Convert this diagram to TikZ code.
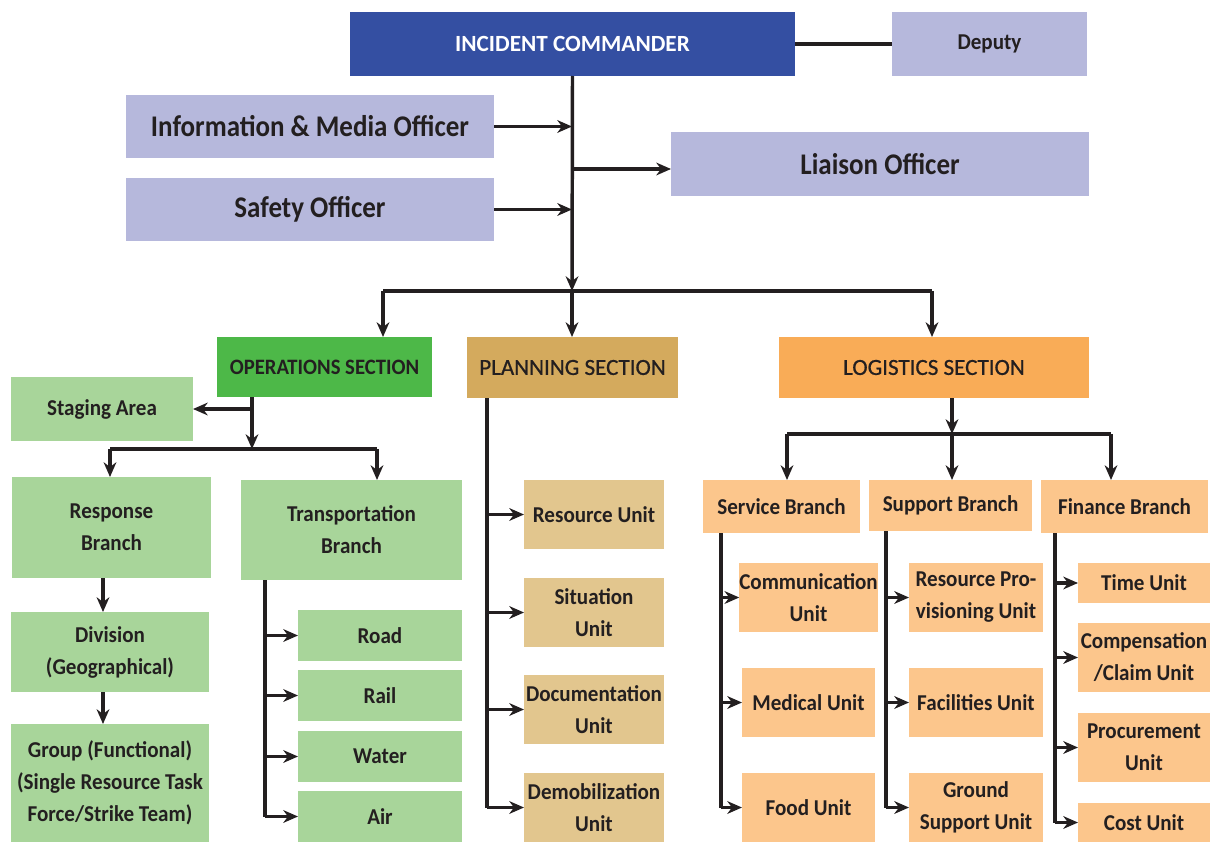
\documentclass[tikz,border=0pt]{standalone}
\usepackage{fontspec}
\setmainfont{Carlito}
\newfontfamily\fbig[FakeStretch=0.9]{Carlito}
\newfontfamily\fnorm[FakeStretch=0.93]{Carlito}
\newfontfamily\fops[FakeStretch=0.94]{Carlito}
\newfontfamily\fsec[FakeBold=0.7]{Carlito}
\usetikzlibrary{arrows.meta}
\definecolor{icblue}{HTML}{344FA2}
\definecolor{lav}{HTML}{B6B8DC}
\definecolor{opsg}{HTML}{4DB848}
\definecolor{lgreen}{HTML}{A8D59A}
\definecolor{plnt}{HTML}{D4AA5D}
\definecolor{ltan}{HTML}{E2C68E}
\definecolor{logo}{HTML}{F9AC57}
\definecolor{lorange}{HTML}{FCC68C}
\definecolor{ink}{HTML}{231F20}
\newcommand\bx[7]{\node[#6, minimum width={0.75pt*(#4-#2)}, minimum height={0.75pt*(#5-#3)}] (#1) at ({(#2+#4)/2},{(#3+#5)/2}) {#7};}
\begin{document}
\begin{tikzpicture}[x=0.75pt,y=-0.75pt,
  base/.style={inner sep=0pt, outer sep=0pt, align=center, text=ink, font=\fnorm\bfseries\fontsize{17}{24}\selectfont},
  icbox/.style={base, fill=icblue, text=white, font=\bfseries\fontsize{17.4}{20}\selectfont},
  lavbox/.style={base, fill=lav},
  bigbox/.style={base, fill=lav, font=\fbig\bfseries\fontsize{22.5}{26}\selectfont},
  opsfont/.style={font=\fops\bfseries\fontsize{16.5}{20}\selectfont},
  secfont/.style={font=\fsec\fontsize{17.3}{20}\selectfont},
  gbox/.style={base, fill=lgreen},
  tbox/.style={base, fill=ltan},
  obox/.style={base, fill=lorange},
  ln/.style={draw=ink, line width=2.6pt},
  arr/.style={ln, -{Stealth[length=11pt,width=9.5pt,inset=3.5pt]}}]
\useasboundingbox (0,0) rectangle (1210,842);
% top
\bx{ic}{350}{12}{795}{76}{icbox}{INCIDENT COMMANDER}
\bx{dep}{892}{12}{1087}{76}{lavbox}{Deputy}
\bx{info}{126}{95}{494}{158}{bigbox}{Information \& Media Officer}
\bx{saf}{126}{178}{494}{241}{bigbox}{Safety Officer}
\bx{lia}{671}{132}{1089}{196}{bigbox}{Liaison Officer}
% sections
\bx{ops}{217}{337}{432}{397}{base,opsfont,fill=opsg}{OPERATIONS SECTION}
\bx{pln}{467}{337}{678}{398}{base,secfont,fill=plnt}{PLANNING SECTION}
\bx{log}{779}{337}{1089}{398}{base,secfont,fill=logo}{LOGISTICS SECTION}
% operations
\bx{stg}{11}{377}{193}{441}{gbox}{Staging Area}
\bx{resp}{12}{477}{211}{578}{gbox}{Response\\Branch}
\bx{trans}{241}{480}{462}{580}{gbox}{Transportation\\Branch}
\bx{div}{11}{612}{209}{692}{gbox}{Division\\(Geographical)}
\bx{grp}{11}{724}{209}{842}{gbox}{Group (Functional)\\(Single Resource Task\\Force/Strike Team)}
\bx{road}{298}{610}{462}{661}{gbox}{Road}
\bx{rail}{298}{670}{462}{721}{gbox}{Rail}
\bx{water}{298}{731}{462}{782}{gbox}{Water}
\bx{air}{298}{791}{462}{842}{gbox}{Air}
% planning
\bx{res}{524}{480}{664}{549}{tbox}{Resource Unit}
\bx{sit}{524}{578}{664}{647}{tbox}{Situation\\Unit}
\bx{doc}{524}{675}{664}{744}{tbox}{Documentation\\Unit}
\bx{dem}{524}{773}{664}{842}{tbox}{Demobilization\\Unit}
% logistics
\bx{svc}{703}{480}{860}{533}{obox}{Service Branch}
\bx{sup}{869}{480}{1032}{531}{obox}{Support Branch}
\bx{fin}{1041}{480}{1208}{533}{obox}{Finance Branch}
\bx{com}{742}{563}{875}{632}{obox}{Communication\\Unit}
\bx{med}{742}{668}{875}{737}{obox}{Medical Unit}
\bx{food}{742}{773}{875}{842}{obox}{Food Unit}
\bx{rpu}{909}{563}{1043}{632}{obox}{Resource Pro-\\visioning Unit}
\bx{fac}{909}{668}{1043}{737}{obox}{Facilities Unit}
\bx{gsu}{909}{773}{1043}{842}{obox}{Ground\\Support Unit}
\bx{time}{1078}{563}{1210}{603}{obox}{Time Unit}
\bx{comp}{1078}{623}{1210}{692}{obox}{Compensation\\/Claim Unit}
\bx{proc}{1078}{713}{1210}{782}{obox}{Procurement\\Unit}
\bx{cost}{1078}{803}{1210}{842}{obox}{Cost Unit}
% coordinates
\coordinate (bar) at (572,291);
\coordinate (barL) at (383,291);
\coordinate (barR) at (932,291);
\coordinate (liay) at (572,169);
\coordinate (o1) at (252,449);
\coordinate (oL) at (110,449);
\coordinate (oR) at (377,449);
\coordinate (rd) at (103,0);
\coordinate (tx) at (265,0);
\coordinate (px) at (487,0);
\coordinate (lg) at (952,434);
\coordinate (lgL) at (787,434);
\coordinate (lgR) at (1111,434);
\coordinate (sx) at (721,0);
\coordinate (ux) at (886,0);
\coordinate (fx) at (1055,0);
% top connectors
\draw[ln] (ic.east) -- (dep.west);
\draw[arr] (ic.south) -- (bar);
\draw[arr] (info.east) -- (info.east -| bar);
\draw[arr] (saf.east) -- (saf.east -| bar);
\draw[arr] (liay) -- (liay -| lia.west);
\draw[ln] (barL) -- (barR);
\draw[arr] (barL) -- (barL |- ops.north);
\draw[arr] (bar) -- (bar |- pln.north);
\draw[arr] (barR) -- (barR |- log.north);
% operations
\draw[arr] (o1 |- ops.south) -- (o1);
\draw[arr] (o1 |- stg.east) -- (stg.east);
\draw[ln] (oL) -- (oR);
\draw[arr] (oL) -- (oL |- resp.north);
\draw[arr] (oR) -- (oR |- trans.north);
\draw[arr] (rd |- resp.south) -- (rd |- div.north);
\draw[arr] (rd |- div.south) -- (rd |- grp.north);
\draw[ln] (tx |- trans.south) -- (tx |- air.west);
\foreach \n in {road,rail,water,air} \draw[arr] (tx |- \n.west) -- (\n.west);
% planning
\draw[ln] (px |- pln.south) -- (px |- dem.west);
\foreach \n in {res,sit,doc,dem} \draw[arr] (px |- \n.west) -- (\n.west);
% logistics
\draw[arr] (lg |- log.south) -- (lg);
\draw[ln] (lgL) -- (lgR);
\draw[arr] (lgL) -- (lgL |- svc.north);
\draw[arr] (lg) -- (lg |- sup.north);
\draw[arr] (lgR) -- (lgR |- fin.north);
\draw[ln] (sx |- svc.south) -- (sx |- food.west);
\foreach \n in {com,med,food} \draw[arr] (sx |- \n.west) -- (\n.west);
\draw[ln] (ux |- sup.south) -- (ux |- gsu.west);
\foreach \n in {rpu,fac,gsu} \draw[arr] (ux |- \n.west) -- (\n.west);
\draw[ln] (fx |- fin.south) -- (fx |- cost.west);
\foreach \n in {time,comp,proc,cost} \draw[arr] (fx |- \n.west) -- (\n.west);
\end{tikzpicture}
\end{document}
